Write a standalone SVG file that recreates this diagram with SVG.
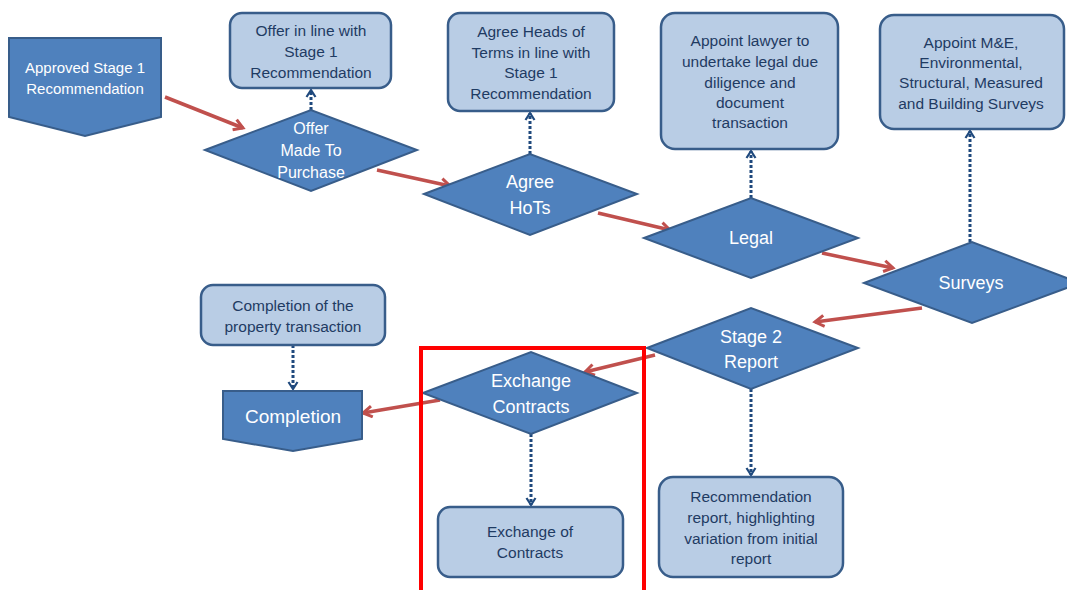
<svg xmlns="http://www.w3.org/2000/svg" width="1067" height="590" viewBox="0 0 1067 590">
<defs>
<marker id="ar" markerUnits="userSpaceOnUse" viewBox="0 0 14 14" markerWidth="14" markerHeight="14" refX="11" refY="7" orient="auto">
<path d="M2,1.5 L11,7 L2,12.5" fill="none" stroke="#C0504D" stroke-width="3" stroke-linejoin="miter"/>
</marker>
<marker id="ab" markerUnits="userSpaceOnUse" viewBox="0 0 12 12" markerWidth="12" markerHeight="12" refX="9" refY="6" orient="auto">
<path d="M2,1.5 L9,6 L2,10.5" fill="none" stroke="#1F497D" stroke-width="2.2"/>
</marker>
<style>
.dk{fill:#4F81BD;stroke:#385D8A;stroke-width:2}
.lt{fill:#B9CDE5;stroke:#385D8A;stroke-width:2.5}
.tw{fill:#FFFFFF;font-family:"Liberation Sans",Arial,sans-serif;text-anchor:middle}
.tb{fill:#1F3B63;font-family:"Liberation Sans",Arial,sans-serif;text-anchor:middle;font-size:15.5px}
.red{stroke:#C0504D;stroke-width:3.5;fill:none;marker-end:url(#ar)}
.dot{stroke:#1F497D;stroke-width:3;fill:none;stroke-dasharray:3 2;marker-end:url(#ab)}
</style>
</defs>
<rect width="1067" height="590" fill="#FFFFFF"/>
<g id="connectors">
<line class="red" x1="165" y1="97" x2="243" y2="128"/>
<line class="red" x1="377" y1="170" x2="450" y2="186"/>
<line class="red" x1="598" y1="213" x2="670" y2="230"/>
<line class="red" x1="822" y1="253" x2="893" y2="268"/>
<line class="red" x1="922" y1="308" x2="815" y2="322"/>
<line class="red" x1="655" y1="355" x2="585" y2="372"/>
<line class="red" x1="440" y1="400" x2="363" y2="413"/>
<line class="dot" x1="311" y1="110" x2="311" y2="90"/>
<line class="dot" x1="530" y1="154" x2="530" y2="113"/>
<line class="dot" x1="751" y1="198" x2="751" y2="151"/>
<line class="dot" x1="970" y1="242" x2="970" y2="131"/>
<line class="dot" x1="751" y1="389" x2="751" y2="475"/>
<line class="dot" x1="531" y1="434" x2="531" y2="505"/>
<line class="dot" x1="293" y1="345" x2="293" y2="389"/>
</g>
<g id="approved">
<polygon class="dk" points="9,38 161,38 161,117 85,136 9,117"/>
<text class="tw" font-size="15" x="85" y="73">Approved Stage 1</text>
<text class="tw" font-size="15" x="85" y="94">Recommendation</text>
</g>
<g id="offer-box">
<rect class="lt" x="230" y="13" width="161" height="75" rx="12"/>
<text class="tb" x="311" y="35.5">Offer in line with</text>
<text class="tb" x="311" y="56.5">Stage 1</text>
<text class="tb" x="311" y="77.5">Recommendation</text>
</g>
<g id="offer">
<polygon class="dk" points="205,150 311,110 417,150 311,191"/>
<text class="tw" font-size="16" x="311" y="134">Offer</text>
<text class="tw" font-size="16" x="311" y="156">Made To</text>
<text class="tw" font-size="16" x="311" y="178">Purchase</text>
</g>
<g id="hots-box">
<rect class="lt" x="448" y="13" width="166" height="98" rx="12"/>
<text class="tb" x="531" y="36.5">Agree Heads of</text>
<text class="tb" x="531" y="57.5">Terms in line with</text>
<text class="tb" x="531" y="77.5">Stage 1</text>
<text class="tb" x="531" y="98.5">Recommendation</text>
</g>
<g id="hots">
<polygon class="dk" points="424,194 530,154 637,194 530,235"/>
<text class="tw" font-size="18" x="530" y="188">Agree</text>
<text class="tw" font-size="18" x="530" y="214">HoTs</text>
</g>
<g id="legal-box">
<rect class="lt" x="661" y="13" width="177" height="136" rx="14"/>
<text class="tb" x="750" y="45.5">Appoint lawyer to</text>
<text class="tb" x="750" y="66.5">undertake legal due</text>
<text class="tb" x="750" y="87.5">diligence and</text>
<text class="tb" x="750" y="107.5">document</text>
<text class="tb" x="750" y="127.5">transaction</text>
</g>
<g id="legal">
<polygon class="dk" points="644,238 751,198 858,238 751,278"/>
<text class="tw" font-size="18" x="751" y="244">Legal</text>
</g>
<g id="surveys-box">
<rect class="lt" x="880" y="15" width="184" height="114" rx="14"/>
<text class="tb" x="971" y="47.5">Appoint M&amp;E,</text>
<text class="tb" x="971" y="67.5">Environmental,</text>
<text class="tb" x="971" y="87.5">Structural, Measured</text>
<text class="tb" x="971" y="108.5">and Building Surveys</text>
</g>
<g id="surveys">
<polygon class="dk" points="864,283 972,242 1080,283 972,323"/>
<text class="tw" font-size="18" x="971" y="289">Surveys</text>
</g>
<g id="stage2">
<polygon class="dk" points="647,348 751,308 858,348 751,389"/>
<text class="tw" font-size="18" x="751" y="343">Stage 2</text>
<text class="tw" font-size="18" x="751" y="368">Report</text>
</g>
<g id="recommendation-box">
<rect class="lt" x="659" y="477" width="184" height="100" rx="14"/>
<text class="tb" x="751" y="501.5">Recommendation</text>
<text class="tb" x="751" y="522.5">report, highlighting</text>
<text class="tb" x="751" y="543.5">variation from initial</text>
<text class="tb" x="751" y="563.5">report</text>
</g>
<g id="exchange">
<polygon class="dk" points="423,393 531,352 637,393 531,434"/>
<text class="tw" font-size="18" x="531" y="387">Exchange</text>
<text class="tw" font-size="18" x="531" y="413">Contracts</text>
</g>
<g id="exchange-box">
<rect class="lt" x="438" y="507" width="185" height="70" rx="12"/>
<text class="tb" x="530" y="536.5">Exchange of</text>
<text class="tb" x="530" y="557.5">Contracts</text>
</g>
<g id="completion">
<polygon class="dk" points="223,391 362,391 362,439 293,451 223,439"/>
<text class="tw" font-size="19" x="293" y="422.5">Completion</text>
</g>
<g id="completion-box">
<rect class="lt" x="201" y="285" width="184" height="60" rx="12"/>
<text class="tb" x="293" y="310.5">Completion of the</text>
<text class="tb" x="293" y="331.5">property transaction</text>
</g>
<g id="highlight">
<rect x="421" y="348" width="223" height="262" fill="none" stroke="#FF0000" stroke-width="4"/>
</g>
</svg>
